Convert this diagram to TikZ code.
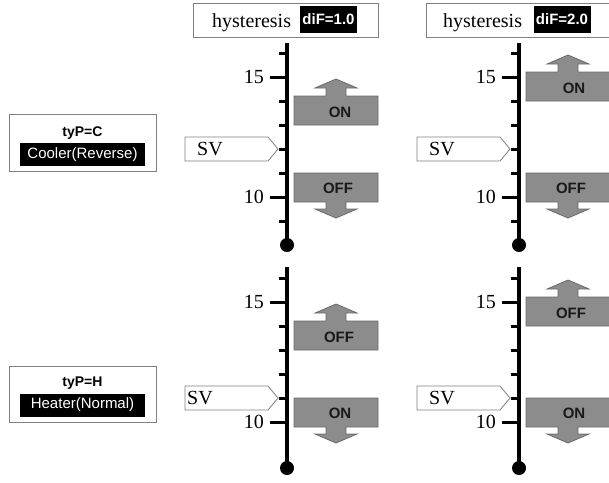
\documentclass[tikz,border=0pt]{standalone}
\usepackage{fontspec}
\setmainfont{Liberation Serif}
\setsansfont{Liberation Sans}
\usepackage{tikz}
\usepackage{xcolor}

\definecolor{boxgray}{HTML}{8C8C8C}
\definecolor{boxedge}{HTML}{6A6A6A}
\definecolor{frameline}{HTML}{808080}

\begin{document}
\begin{tikzpicture}[x=1pt, y=-1pt,
    serif/.style={font=\fontsize{20}{24}\selectfont, inner sep=0pt},
    num/.style={serif, anchor=east},
    frame/.style={draw=frameline, line width=0.8pt},
    stem/.style={line width=3.5pt},
    scaletick/.style={line width=3pt},
    statebox/.style={fill=boxgray, draw=boxedge, line width=0.8pt},
    statetext/.style={font=\fontsize{15}{15}\selectfont\sffamily\bfseries, text=black!90, inner sep=0pt},
    difbox/.style={fill=black, text=white, font=\fontsize{15}{15}\selectfont\sffamily\bfseries,
        inner sep=0pt, minimum width=57pt, minimum height=27pt},
    typetitle/.style={font=\fontsize{14}{14}\selectfont\sffamily\bfseries, inner sep=0pt},
    typebar/.style={fill=black, text=white, font=\fontsize{15}{15}\selectfont\sffamily,
        inner sep=0pt, minimum width=125pt, minimum height=23pt}]

    \useasboundingbox (0,0) rectangle (609,482);
    \clip (0,0) rectangle (609,482);

    % 1. Headers of the two columns
    \draw[frame] (193,3) rectangle (378,37);
    \node[serif, anchor=base west] (hysA) at (212,27) {hysteresis};
    \node[difbox] (difA) at (328.5,19.5) {diF=1.0};

    \draw[frame] (426,3) rectangle (612,37);
    \node[serif, anchor=base west] (hysB) at (443,27) {hysteresis};
    \node[difbox] (difB) at (562,19.5) {diF=2.0};

    % 2. Controller type on the left of each row
    \draw[frame] (9,114) rectangle (156,171);
    \node[typetitle] (typC) at (82.5,133) {tyP=C};
    \node[typebar] (modeC) at (82.5,154.5) {Cooler(Reverse)};

    \draw[frame] (9,366) rectangle (156,422);
    \node[typetitle] (typH) at (82.5,383) {tyP=H};
    \node[typebar] (modeH) at (82.5,405) {Heater(Normal)};

    % 3. Cooler, diF=1.0 (value v sits at y = (15-v)*24)
    \begin{scope}[shift={(287,77)}]
        \draw[stem] (0,-34) -- (0,168);
        \fill (0,168) circle (7pt);
        \draw[scaletick] (-8,-24) -- (0,-24) (-8,24) -- (0,24) (-8,48) -- (0,48)
            (-8,72) -- (0,72) (-8,96) -- (0,96) (-8,144) -- (0,144);
        \draw[scaletick] (-17,0) -- (0,0) (-17,120) -- (0,120);
        \node[num] (n15a) at (-23,0) {15};
        \node[num] (n10a) at (-23,120) {10};
        % set value
        \draw[frame] (-102,60) -- (-19,60) -- (-9,72) -- (-19,84) -- (-102,84) -- cycle;
        \node[serif, anchor=west] (svA) at (-90,72) {SV};
        % switching points
        \draw[statebox] (7,48) -- ++(84,0) -- ++(0,-29) -- ++(-32,0) -- ++(0,-8) -- ++(11,0)
            -- ++(-21,-9) -- ++(-21,9) -- ++(11,0) -- ++(0,8) -- ++(-32,0) -- cycle;
        \node[statetext] (onA) at (53,35) {ON};
        \draw[statebox] (7,96) -- ++(84,0) -- ++(0,29) -- ++(-32,0) -- ++(0,7) -- ++(11,0)
            -- ++(-21,9) -- ++(-21,-9) -- ++(11,0) -- ++(0,-7) -- ++(-32,0) -- cycle;
        \node[statetext] (offA) at (51,111) {OFF};
    \end{scope}

    % 4. Cooler, diF=2.0
    \begin{scope}[shift={(519,77)}]
        \draw[stem] (0,-34) -- (0,168);
        \fill (0,168) circle (7pt);
        \draw[scaletick] (-8,-24) -- (0,-24) (-8,24) -- (0,24) (-8,48) -- (0,48)
            (-8,72) -- (0,72) (-8,96) -- (0,96) (-8,144) -- (0,144);
        \draw[scaletick] (-17,0) -- (0,0) (-17,120) -- (0,120);
        \node[num] (n15b) at (-23,0) {15};
        \node[num] (n10b) at (-23,120) {10};
        \draw[frame] (-102,60) -- (-19,60) -- (-9,72) -- (-19,84) -- (-102,84) -- cycle;
        \node[serif, anchor=west] (svB) at (-90,72) {SV};
        \draw[statebox] (7,24) -- ++(84,0) -- ++(0,-29) -- ++(-32,0) -- ++(0,-8) -- ++(11,0)
            -- ++(-21,-9) -- ++(-21,9) -- ++(11,0) -- ++(0,8) -- ++(-32,0) -- cycle;
        \node[statetext] (onB) at (55,11) {ON};
        \draw[statebox] (7,96) -- ++(84,0) -- ++(0,29) -- ++(-32,0) -- ++(0,7) -- ++(11,0)
            -- ++(-21,9) -- ++(-21,-9) -- ++(11,0) -- ++(0,-7) -- ++(-32,0) -- cycle;
        \node[statetext] (offB) at (52,111) {OFF};
    \end{scope}

    % 5. Heater, diF=1.0
    \begin{scope}[shift={(287,302)}]
        \draw[stem] (0,-35) -- (0,166);
        \fill (0,166) circle (7pt);
        \draw[scaletick] (-8,-24) -- (0,-24) (-8,24) -- (0,24) (-8,48) -- (0,48)
            (-8,72) -- (0,72) (-8,96) -- (0,96);
        \draw[scaletick] (-17,0) -- (0,0) (-17,120) -- (0,120);
        \node[num] (n15c) at (-23,0) {15};
        \node[num] (n10c) at (-23,120) {10};
        \draw[frame] (-102,84) -- (-19,84) -- (-9,96) -- (-19,108) -- (-102,108) -- cycle;
        \node[serif, anchor=west] (svC) at (-100,96) {SV};
        \draw[statebox] (7,48) -- ++(84,0) -- ++(0,-29) -- ++(-32,0) -- ++(0,-8) -- ++(11,0)
            -- ++(-21,-9) -- ++(-21,9) -- ++(11,0) -- ++(0,8) -- ++(-32,0) -- cycle;
        \node[statetext] (offC) at (52,35) {OFF};
        \draw[statebox] (7,96) -- ++(84,0) -- ++(0,29) -- ++(-32,0) -- ++(0,7) -- ++(11,0)
            -- ++(-21,9) -- ++(-21,-9) -- ++(11,0) -- ++(0,-7) -- ++(-32,0) -- cycle;
        \node[statetext] (onC) at (53,111) {ON};
    \end{scope}

    % 6. Heater, diF=2.0
    \begin{scope}[shift={(519,302)}]
        \draw[stem] (0,-35) -- (0,166);
        \fill (0,166) circle (7pt);
        \draw[scaletick] (-8,-24) -- (0,-24) (-8,24) -- (0,24) (-8,48) -- (0,48)
            (-8,72) -- (0,72) (-8,96) -- (0,96);
        \draw[scaletick] (-17,0) -- (0,0) (-17,120) -- (0,120);
        \node[num] (n15d) at (-23,0) {15};
        \node[num] (n10d) at (-23,120) {10};
        \draw[frame] (-102,84) -- (-19,84) -- (-9,96) -- (-19,108) -- (-102,108) -- cycle;
        \node[serif, anchor=west] (svD) at (-90,96) {SV};
        \draw[statebox] (7,24) -- ++(84,0) -- ++(0,-29) -- ++(-32,0) -- ++(0,-8) -- ++(11,0)
            -- ++(-21,-9) -- ++(-21,9) -- ++(11,0) -- ++(0,8) -- ++(-32,0) -- cycle;
        \node[statetext] (offD) at (52,11) {OFF};
        \draw[statebox] (7,96) -- ++(84,0) -- ++(0,29) -- ++(-32,0) -- ++(0,7) -- ++(11,0)
            -- ++(-21,9) -- ++(-21,-9) -- ++(11,0) -- ++(0,-7) -- ++(-32,0) -- cycle;
        \node[statetext] (onD) at (55,111) {ON};
    \end{scope}

\end{tikzpicture}
\end{document}
